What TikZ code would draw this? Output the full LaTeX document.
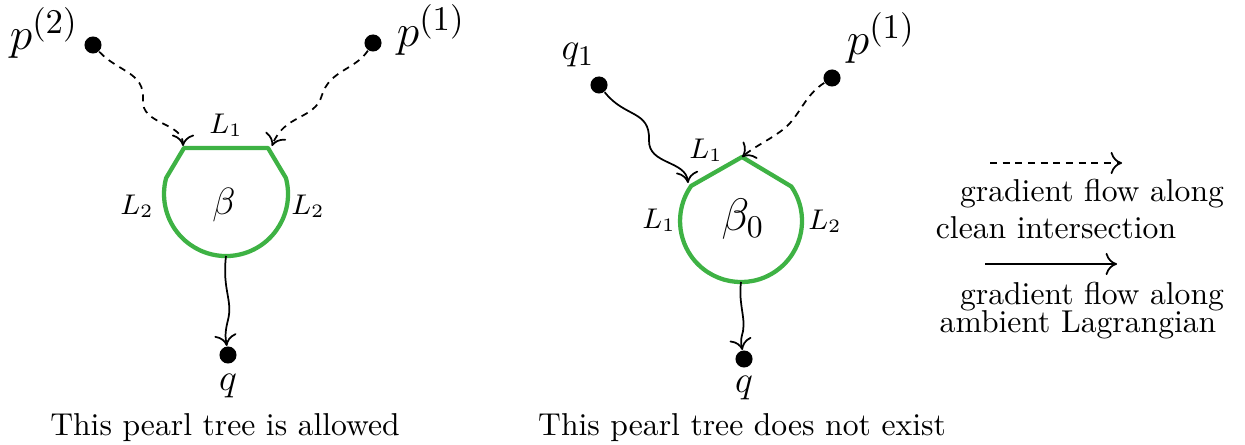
\documentclass[tikz,border=0pt]{standalone}
\usetikzlibrary{arrows.meta}
\definecolor{pearl}{RGB}{62,178,68}
\begin{document}
\begin{tikzpicture}[x=0.316pt,y=-0.316pt,
  dot/.style={circle,fill=black,inner sep=0pt,minimum size=5.4pt},
  flowarrow/.style={line width=0.55pt,-{To[length=3.6pt,width=7pt]}},
  dashflow/.style={flowarrow,dash pattern=on 2.2pt off 1.8pt},
  pearlline/.style={draw=pearl,line width=1.35pt,line join=round},
  biglab/.style={font=\fontsize{15}{18}\selectfont},
  medlab/.style={font=\fontsize{12.5}{15}\selectfont},
  smalllab/.style={font=\fontsize{9}{11}\selectfont},
  txt/.style={anchor=base,font=\normalsize}]
\useasboundingbox (0,0) rectangle (1245,445);

% ---------- left tree ----------
\coordinate (tl) at (184,148);
\coordinate (tr) at (268,148);
\coordinate (rarc) at (285.9,178);
\coordinate (bot) at (226,256);
\draw[pearlline] (tl) -- (tr) -- (rarc) arc[start angle=-15,end angle=195,radius=62] -- cycle;

\node[dot] (p2) at (93,45) {};
\node[dot] (p1) at (373,43) {};
\node[dot] (q) at (228,355) {};

\node[biglab] (lp2) at (44,33) {$p^{(2)}$};
\node[biglab] (lp1) at (431,30) {$p^{(1)}$};
\node[medlab] (lq) at (228,386) {$q$};
\node[smalllab] (lL1) at (226,125) {$L_1$};
\node[smalllab] (lL2a) at (137,206) {$L_2$};
\node[smalllab] (lL2b) at (308,206) {$L_2$};
\node[font=\large] (beta) at (224,205) {$\beta$};
\node[txt] (cap1) at (225,435) {This pearl tree is allowed};

\draw[dashflow] (p2) .. controls (118,72) and (145,72) .. (143,100)
   .. controls (141,125) and (183,122) .. (183,146);
\draw[dashflow] (p1) .. controls (355,70) and (330,70) .. (322,95)
   .. controls (315,120) and (284,114) .. (272,146);
\draw[flowarrow] (bot) .. controls (222,290) and (233,300) .. (228,320)
   .. controls (224,335) and (226,340) .. (q);

% ---------- right tree ----------
\coordinate (top) at (742,157);
\coordinate (rr) at (791.3,186.5);
\coordinate (ll) at (690.2,185.8);
\coordinate (botR) at (741,282);
\draw[pearlline] (top) -- (rr) arc[start angle=-34.5,end angle=215.2,radius=61] -- cycle;

\node[dot] (q1) at (599,85) {};
\node[dot] (p1R) at (832,78) {};
\node[dot] (qR) at (744,359) {};

\node[medlab] (lq1) at (578,55) {$q_1$};
\node[biglab] (lp1R) at (881,38) {$p^{(1)}$};
\node[medlab] (lqR) at (744,388) {$q$};
\node[smalllab] (rL1a) at (706,150) {$L_1$};
\node[smalllab] (rL1b) at (659,220) {$L_1$};
\node[smalllab] (rL2) at (825,221) {$L_2$};
\node[font=\fontsize{14}{16}\selectfont] (beta0) at (743,219) {$\beta_0$};
\node[txt] (cap2) at (742,435) {This pearl tree does not exist};

\draw[flowarrow] (q1) .. controls (625,118) and (650,110) .. (649,140)
   .. controls (648,165) and (686,160) .. (688,183);
\draw[dashflow] (p1R) .. controls (805,95) and (800,115) .. (785,128)
   .. controls (770,140) and (755,146) .. (top);
\draw[flowarrow] (botR) .. controls (738,305) and (747,320) .. (742,335)
   .. controls (740,343) and (742,348) .. (qR);

% ---------- legend ----------
\coordinate (ld1) at (990,163);
\coordinate (ld2) at (1122,163);
\coordinate (ls1) at (985,264);
\coordinate (ls2) at (1117,264);
\draw[dashflow] (ld1) -- (ld2);
\draw[flowarrow] (ls1) -- (ls2);
\node[txt] (g1) at (1092,202) {gradient flow along};
\node[txt] (g2) at (1056,239) {clean intersection};
\node[txt] (g3) at (1092,305) {gradient flow along};
\node[txt] (g4) at (1078,333) {ambient Lagrangian};
\end{tikzpicture}
\end{document}
